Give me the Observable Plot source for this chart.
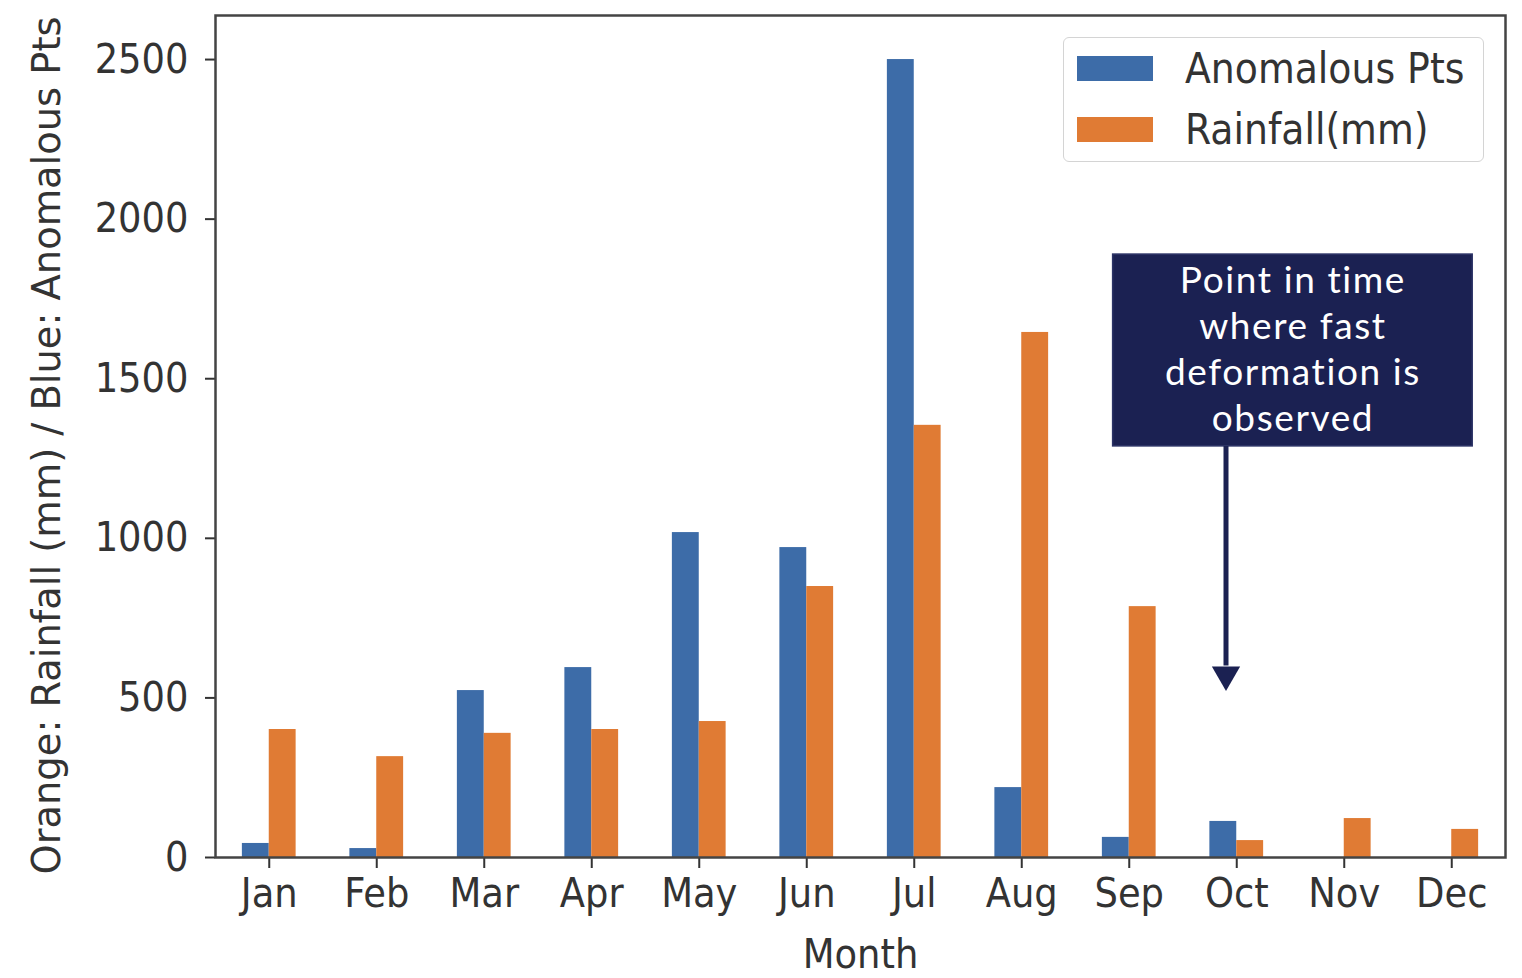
<!DOCTYPE html>
<html>
<head>
<meta charset="utf-8">
<script src="https://cdn.jsdelivr.net/npm/d3@7"></script>
<script src="https://cdn.jsdelivr.net/npm/@observablehq/plot@0.6"></script>
<style>
  html, body { margin: 0; padding: 0; background: #ffffff; }
  #wrap { position: relative; width: 1522px; height: 978px; overflow: hidden; }
  .legend { position: absolute; left: 1063px; top: 37px; width: 421px; height: 125px;
    border: 1.5px solid #d4d4d4; border-radius: 6px; background: #fff; box-sizing: border-box;
    font-family: "DejaVu Sans Condensed", "DejaVu Sans", sans-serif; font-size: 42px; color: #333; }
  .legend .row { position: absolute; left: 13px; height: 50px; display: flex; align-items: center; }
  .legend .sw { width: 76px; height: 25px; margin-right: 32px; }
</style>
</head>
<body>
<div id="wrap"></div>
<script>
const months = ["Jan","Feb","Mar","Apr","May","Jun","Jul","Aug","Sep","Oct","Nov","Dec"];
const anomalousPts = [44, 28, 523, 595, 1018, 971, 2500, 219, 63, 113, 0, 0];
const rainfallMm = [401, 316, 389, 401, 426, 849, 1354, 1645, 786, 53, 122, 88];
const yTicks = [0, 500, 1000, 1500, 2000, 2500];
const seriesNames = ["Anomalous Pts", "Rainfall(mm)"];
const seriesColors = ["#3d6ca8", "#e07b34"];
const yLabel = "Orange: Rainfall (mm) / Blue: Anomalous Pts";
const xLabel = "Month";
const noteText = "Point in time\nwhere fast\ndeformation is\nobserved";
// annotation box / arrow, in data units (month index, value)
const noteBox = [{x1: 7.85, x2: 11.195, y1: 1288, y2: 1889}];
const noteArrow = [{x: 8.9, y1: 1288, y2: 600, tip: 573}];

const bars = [];
months.forEach((m, i) => {
  bars.push({i, series: seriesNames[0], x1: i - 0.25, x2: i, value: anomalousPts[i]});
  bars.push({i, series: seriesNames[1], x1: i, x2: i + 0.25, value: rainfallMm[i]});
});

const font = '"DejaVu Sans Condensed", "DejaVu Sans", sans-serif';

const chart = Plot.plot({
  width: 1522,
  height: 978,
  marginLeft: 215,
  marginRight: 17,
  marginTop: 15,
  marginBottom: 121,
  style: {fontFamily: font, fontSize: "41px", color: "#333", background: "#fff"},
  x: {type: "linear", domain: [-0.5, 11.5]},
  y: {domain: [0, 2638]},
  color: {domain: seriesNames, range: seriesColors},
  marks: [
    Plot.rectY(bars, {x1: "x1", x2: "x2", y1: 0, y2: "value", fill: "series"}),
    Plot.axisX({ticks: d3.range(12), tickFormat: i => months[i], tickSize: 11, tickPadding: 9, label: null, strokeWidth: 2}),
    Plot.axisY({ticks: yTicks, tickFormat: d => String(d), tickSize: 10, tickPadding: 17, label: null, strokeWidth: 2}),
    Plot.frame({stroke: "#444", strokeWidth: 2.5}),
    Plot.text([xLabel], {frameAnchor: "bottom", dy: 97, lineAnchor: "middle", textAnchor: "middle", fontSize: 41}),
    Plot.text([yLabel], {frameAnchor: "left", dx: -168, dy: 9, rotate: -90, lineAnchor: "middle", textAnchor: "middle", fontSize: 39}),
    Plot.rect(noteBox, {x1: "x1", x2: "x2", y1: "y1", y2: "y2", fill: "#1b2152", stroke: "#2c3366", strokeWidth: 1.5}),
    Plot.text([noteText], {x: d => (noteBox[0].x1 + noteBox[0].x2) / 2, y: d => (noteBox[0].y1 + noteBox[0].y2) / 2,
      fill: "#fff", fontSize: 37, lineHeight: 1.24, lineAnchor: "middle", fontFamily: "Lato, sans-serif", dy: -3, className: "note"}),
    Plot.ruleX(noteArrow, {x: "x", y1: "y1", y2: "y2", stroke: "#1b2152", strokeWidth: 5}),
    Plot.dot(noteArrow, {x: "x", y: "tip", symbol: "triangle", r: 10.5, rotate: 180, fill: "#1b2152", stroke: "none"})
  ]
});

const wrap = document.getElementById("wrap");
wrap.appendChild(chart);

// fit the long rotated y label to its measured length
d3.select(chart).selectAll("text").filter(function() { return this.textContent === yLabel; })
  .attr("textLength", 858).attr("lengthAdjust", "spacingAndGlyphs");
// slightly wider tracking for the annotation text
d3.select(chart).selectAll("text").filter(function() { return this.textContent.startsWith("Point in time"); })
  .attr("letter-spacing", "1.6px");

// legend (inside plot area, upper right)
const legend = document.createElement("div");
legend.className = "legend";
seriesNames.forEach((name, k) => {
  const row = document.createElement("div");
  row.className = "row";
  row.style.top = (5 + k * 61) + "px";
  const sw = document.createElement("div");
  sw.className = "sw";
  sw.style.background = seriesColors[k];
  const lab = document.createElement("span");
  lab.textContent = name;
  row.appendChild(sw);
  row.appendChild(lab);
  legend.appendChild(row);
});
wrap.appendChild(legend);
</script>
</body>
</html>
